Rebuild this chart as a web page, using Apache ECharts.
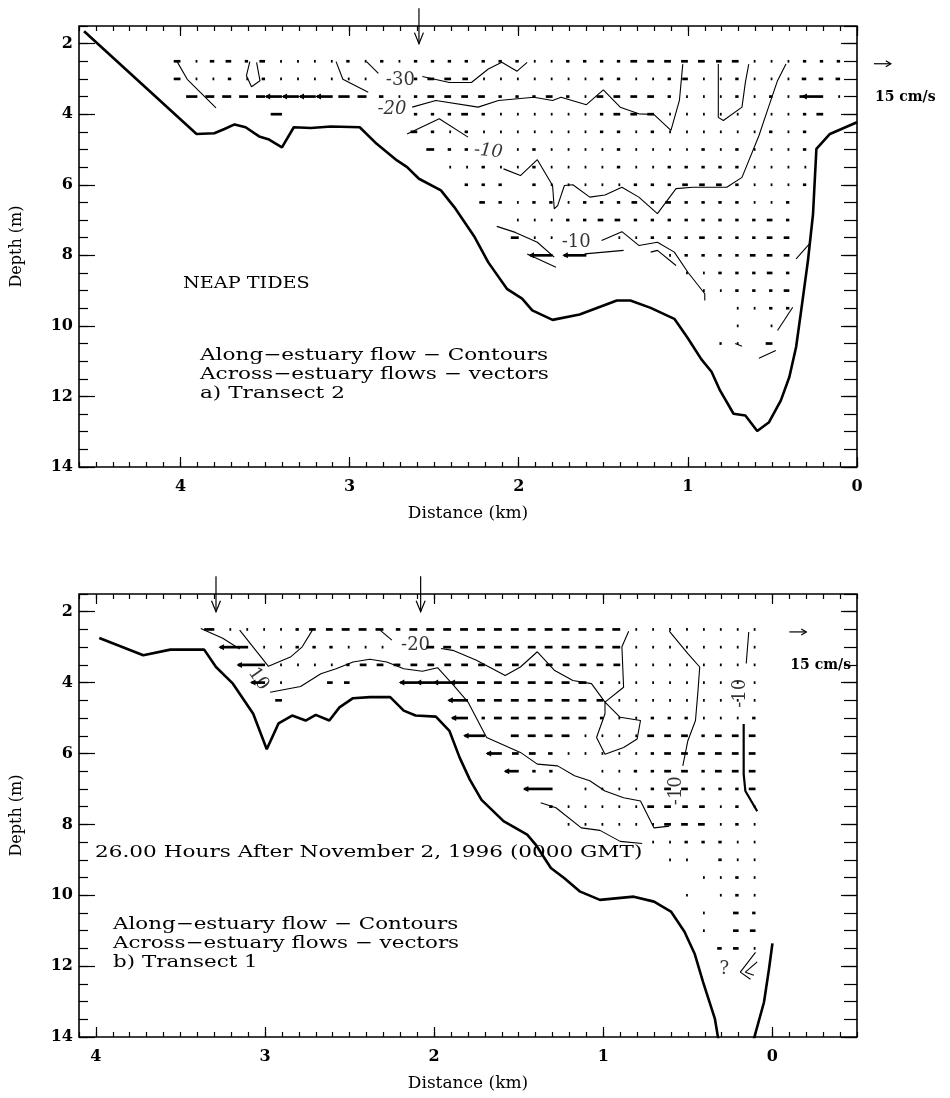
<!DOCTYPE html>
<html>
<head>
<meta charset="utf-8">
<script src="https://cdn.jsdelivr.net/npm/echarts@6/dist/echarts.min.js"></script>
<style>
  html, body { margin: 0; padding: 0; background: #fff; }
  #chart { width: 950px; height: 1098px; }
</style>
</head>
<body>
<div id="chart"></div>
<script>
const _ = null;

// ---------- tick labels ----------
const depthTicks = [2, 4, 6, 8, 10, 12, 14];
const distTicks = [0, 1, 2, 3, 4];

// ---------- measurement grid ----------
const neapCols = [4.0, 3.9, 3.8, 3.7, 3.6, 3.5, 3.4, 3.3, 3.2, 3.1, 3.0, 2.9, 2.8, 2.7, 2.6, 2.5, 2.4, 2.3, 2.2, 2.1,
                  2.0, 1.9, 1.8, 1.7, 1.6, 1.5, 1.4, 1.3, 1.2, 1.1, 1.0, 0.9, 0.8, 0.7, 0.6, 0.5, 0.4, 0.3, 0.2, 0.1];
const neapDepths = [2.5, 3.0, 3.5, 4.0, 4.5, 5.0, 5.5, 6.0, 6.5, 7.0, 7.5, 8.0, 8.5, 9.0, 9.5, 10.0, 10.5];
const springCols = [3.4, 3.3, 3.2, 3.1, 3.0, 2.9, 2.8, 2.7, 2.6, 2.5, 2.4, 2.3, 2.2, 2.1, 2.0, 1.9, 1.8,
                    1.7, 1.6, 1.5, 1.4, 1.3, 1.2, 1.1, 1.0, 0.9, 0.8, 0.7, 0.6, 0.5, 0.4, 0.3, 0.2, 0.1];
const springDepths = [2.5, 3.0, 3.5, 4.0, 4.5, 5.0, 5.5, 6.0, 6.5, 7.0, 7.5, 8.0, 8.5, 9.0, 9.5, 10.0, 10.5, 11.0, 11.5];

// ---------- across-estuary velocity (cm/s, + = toward right of page), transect 2 ----------
const neapU25 = [-6,-1,-4,-5,-3,-5,-1,-1,-1,-1, -3,-1,-3,-1,-3,-3,-3,-3,-3,-3, -3,-1,-1,-3,-3,-3,-3,-6,-6,-6, -6,-6,-5,-6,-1,-1,-1,-3,-3,-3];
const neapU30 = [-6,-1,-1.5,-3,-1,-3,-1,-1,-1,-1, -1,-1,_,_,-3,-6,-6,-5,-1,-1, -1,-1,-1,-1,-1,-3,-3,-1,-1,-3, -5,-1,-1,-3,-1,-1,-1,-4,-4,-4];
const neapU35 = [_,-10,-8,-8,-8,-8,-14,-14,-14,-14, -10,-8,-4,-1,-3,-6,-6,-6,-6,-3, -3,-3,-6,-3,-1,-6,-6,-6,-6,-3, -1,-1,-1,-3,-1,-3,-1,-6,-18,-1];
const neapU40 = [_,_,_,_,_,_,-10,_,_,_, _,_,_,_,-3,-3,-3,-6,-3,-1, -1,-1,-1,-1,-1,-3,-6,-6,-6,-1, -1,-1,-1,-1,-1,-1,-1,-3,-6,_];
const neapU45 = [_,_,_,_,_,_,_,_,_,_, _,_,_,_,-6,-3,-1,-3,-1,-1, -1,-1,-1,-1,-1,-3,-3,-1,-3,-1, -1,-1,-1,-1,-1,-3,-1,-3,_,_];
const neapU50 = [_,_,_,_,_,_,_,_,_,_, _,_,_,_,_,-7,-3,-3,_,_, -1,-3,-1,-1,-1,-1,-3,-1,-1,-1, -1,-3,-1,-3,-1,-1,-1,-3,_,_];
const neapU55 = [_,_,_,_,_,_,_,_,_,_, _,_,_,_,_,_,-1,-1,-3,-1, -1,-3,-1,-1,-1,-1,-3,-1,-1,-3, -3,-3,-3,-3,-1,-1,-1,-1,_,_];
const neapU60 = [_,_,_,_,_,_,_,_,_,_, _,_,_,_,_,_,_,-3,-3,-3, _,-3,-1,-1,-1,-1,-1,-3,-3,-3, -5,-5,-5,-3,-1,-1,-1,-3,_,_];
const neapU65 = [_,_,_,_,_,_,_,_,_,_, _,_,_,_,_,_,_,_,-5,-3, -1,-3,-3,-1,-3,-3,-3,-5,-3,-5, -3,-3,-3,-3,-1,-1,-3,_,_,_];
const neapU70 = [_,_,_,_,_,_,_,_,_,_, _,_,_,_,_,_,_,_,_,_, -1,-1,-1,-3,-3,-5,-5,-3,-3,-3, -3,-3,-3,-3,-3,-5,-3,_,_,_];
const neapU75 = [_,_,_,_,_,_,_,_,_,_, _,_,_,_,_,_,_,_,_,_, -7,-1,-1,_,_,_,-1,-1,-3,-3, -3,-5,-3,-3,-3,-5,-5,_,_,_];
const neapU80 = [_,_,_,_,_,_,_,_,_,_, _,_,_,_,_,_,_,_,_,_, _,_,-20,_,-20,_,_,_,_,-1, -3,-3,-3,-3,-5,-5,-5,_,_,_];
const neapU85 = [_,_,_,_,_,_,_,_,_,_, _,_,_,_,_,_,_,_,_,_, _,_,_,_,_,_,_,_,_,_, -1,-1,-3,-3,-3,-5,-3,_,_,_];
const neapU90 = [_,_,_,_,_,_,_,_,_,_, _,_,_,_,_,_,_,_,_,_, _,_,_,_,_,_,_,_,_,_, _,-1,-1,-3,-3,-3,-5,_,_,_];
const neapU95 = [_,_,_,_,_,_,_,_,_,_, _,_,_,_,_,_,_,_,_,_, _,_,_,_,_,_,_,_,_,_, _,_,_,-1,-1,-3,-3,_,_,_];
const neapU100 = [_,_,_,_,_,_,_,_,_,_, _,_,_,_,_,_,_,_,_,_, _,_,_,_,_,_,_,_,_,_, _,_,_,-1,_,-1,_,_,_,_];
const neapU105 = [_,_,_,_,_,_,_,_,_,_, _,_,_,_,_,_,_,_,_,_, _,_,_,_,_,_,_,_,_,_, _,_,-2,-1,_,-6,_,_,_,_];
const neapRows = [neapU25, neapU30, neapU35, neapU40, neapU45, neapU50, neapU55, neapU60, neapU65,
                  neapU70, neapU75, neapU80, neapU85, neapU90, neapU95, neapU100, neapU105];

// ---------- across-estuary velocity (cm/s), transect 1 ----------
const springU25 = [_,-9,-1,-1,-1,-1,-3,-6,-6,-7, -7,-7,-4,-7,-7,-7,-7,-7,-7,-7, -7,-7,-7,-7,-7,-7,-1,-1,-1,-1, -1,-1,-1,-1];
const springU30 = [_,_,_,-25,-1,-1,-3,-3,-3,-1, -1,-1,_,_,-7,-7,-7,-7,-7,-7, -7,-7,-7,-7,-7,-7,-1,-1,-1,-1, -1,-1,-1,-1];
const springU35 = [_,_,_,_,-24,-1,-1,-1,-1,-3, -6,-6,-6,-6,-6,-6,-6,-6,-6,-6, -6,-6,-6,-6,-6,-6,-1,-1,-1,-1, -1,-1,-1,-1];
const springU40 = [_,_,_,_,-12,-1,_,_,-5,-5, _,_,_,-15,-15,-15,-15,-7,-7,-7, -7,-7,-7,-7,-3,-1,-1,-1,-1,-1, -1,-1,-1,-1];
const springU45 = [_,_,_,_,_,-6,_,_,_,_, _,_,_,_,_,_,-17,-7,-7,-7, -7,-7,-7,-7,-6,-1,-1,-1,-1,-1, -1,-1,-1,-1];
const springU50 = [_,_,_,_,_,_,_,_,_,_, _,_,_,_,_,_,-14,-3,-7,-7, -7,-7,-7,-7,-3,-1,-1,-3,-3,-3, -1,-1,-1,-3];
const springU55 = [_,_,_,_,_,_,_,_,_,_, _,_,_,_,_,_,_,-18,_,-7, -7,-7,-7,-1,-1,-1,-1,-6,-6,-6, -3,-6,-6,-6];
const springU60 = [_,_,_,_,_,_,_,_,_,_, _,_,_,_,_,_,_,_,-13,-6, -6,-4,-1,-1,-1,-1,-1,-3,-6,-6, -6,-6,-6,-6];
const springU65 = [_,_,_,_,_,_,_,_,_,_, _,_,_,_,_,_,_,_,_,-12, -3,-3,_,_,-1,-1,-3,-3,-6,-6, -3,-6,-6,-6];
const springU70 = [_,_,_,_,_,_,_,_,_,_, _,_,_,_,_,_,_,_,_,_, _,-25,_,-1,-1,-1,-1,-3,-6,-6, -3,-3,-3,-6];
const springU75 = [_,_,_,_,_,_,_,_,_,_, _,_,_,_,_,_,_,_,_,_, _,-3,-1,-1,-1,-1,-1,-6,-6,-5, -5,-1,-3,-1];
const springU80 = [_,_,_,_,_,_,_,_,_,_, _,_,_,_,_,_,_,_,_,_, _,_,-1,-1,-1,-1,-1,-1,-6,-6, -6,-1,-3,-1];
const springU85 = [_,_,_,_,_,_,_,_,_,_, _,_,_,_,_,_,_,_,_,_, _,_,_,_,_,_,_,-1,-1,-3, -3,-3,-1,-1];
const springU90 = [_,_,_,_,_,_,_,_,_,_, _,_,_,_,_,_,_,_,_,_, _,_,_,_,_,_,_,_,-1,-1, _,-3,-1,-1];
const springU95 = [_,_,_,_,_,_,_,_,_,_, _,_,_,_,_,_,_,_,_,_, _,_,_,_,_,_,_,_,_,_, -1,-1,-3,-1];
const springU100 = [_,_,_,_,_,_,_,_,_,_, _,_,_,_,_,_,_,_,_,_, _,_,_,_,_,_,_,_,_,-1, _,-1,-3,-1];
const springU105 = [_,_,_,_,_,_,_,_,_,_, _,_,_,_,_,_,_,_,_,_, _,_,_,_,_,_,_,_,_,_, -1,_,-5,-3];
const springU110 = [_,_,_,_,_,_,_,_,_,_, _,_,_,_,_,_,_,_,_,_, _,_,_,_,_,_,_,_,_,_, -1,_,-5,-5];
const springU115 = [_,_,_,_,_,_,_,_,_,_, _,_,_,_,_,_,_,_,_,_, _,_,_,_,_,_,_,_,_,_, _,-4,-5,-1];
const springRows = [springU25, springU30, springU35, springU40, springU45, springU50, springU55, springU60,
                    springU65, springU70, springU75, springU80, springU85, springU90, springU95, springU100,
                    springU105, springU110, springU115];

// ---------- bottom profiles [distance km, depth m] ----------
const neapBottom = [[4.57,1.65],[3.905,4.56],[3.80,4.54],[3.74,4.42],[3.68,4.29],[3.615,4.37],[3.535,4.63],[3.476,4.72],
  [3.40,4.94],[3.33,4.37],[3.23,4.39],[3.11,4.35],[2.94,4.37],[2.84,4.84],[2.72,5.31],[2.66,5.50],[2.59,5.83],[2.46,6.16],
  [2.38,6.64],[2.26,7.49],[2.18,8.2],[2.07,8.95],[1.98,9.23],[1.92,9.56],[1.80,9.83],[1.64,9.68],[1.42,9.28],[1.34,9.28],
  [1.22,9.49],[1.08,9.80],[1.0,10.35],[0.92,10.95],[0.86,11.3],[0.81,11.83],[0.73,12.49],[0.66,12.54],[0.59,12.98],
  [0.52,12.73],[0.45,12.11],[0.40,11.45],[0.36,10.60],[0.33,9.56],[0.29,8.15],[0.26,6.83],[0.24,4.98],[0.16,4.56],[0.0,4.23]];
const springBottom = [[3.98,2.74],[3.72,3.23],[3.56,3.07],[3.36,3.07],[3.29,3.56],[3.19,4.03],[3.07,4.88],[2.99,5.88],
  [2.92,5.15],[2.84,4.93],[2.76,5.07],[2.70,4.91],[2.62,5.07],[2.56,4.70],[2.48,4.44],[2.38,4.41],[2.26,4.41],[2.18,4.79],
  [2.11,4.93],[1.99,4.96],[1.91,5.36],[1.85,6.11],[1.79,6.73],[1.72,7.31],[1.59,7.91],[1.45,8.29],[1.40,8.57],[1.31,9.23],
  [1.23,9.52],[1.14,9.89],[1.02,10.13],[0.82,10.04],[0.70,10.18],[0.60,10.46],[0.52,11.03],[0.46,11.65],[0.41,12.45],
  [0.34,13.49],[0.32,14.06]];
const springBottomEast = [[0.11,14.06],[0.05,13.02],[0.02,12.07],[0.0,11.36]];

// ---------- along-estuary flow contours [distance km, depth m] ----------
const neapContours = [
  [[4.02,2.51],[3.96,3.01],[3.79,3.82]],
  [[3.59,2.51],[3.61,2.91],[3.58,3.22],[3.53,3.05],[3.55,2.53]],
  [[3.08,2.51],[3.04,3.01],[2.89,3.38]],
  [[2.90,2.51],[2.83,2.84]],
  [[2.57,2.93],[2.41,3.10],[2.28,3.10],[2.18,2.72],[2.10,2.53],[2.01,2.78],[1.95,2.53]],
  [[2.63,3.80],[2.49,3.61],[2.24,3.80],[2.12,3.61],[1.91,3.52],[1.80,3.61],[1.75,3.52],[1.60,3.73],[1.50,3.31],
   [1.40,3.80],[1.29,3.99],[1.20,4.01],[1.10,4.46],[1.05,3.61],[1.03,2.58]],
  [[0.82,2.58],[0.82,4.09],[0.79,4.18],[0.68,3.80],[0.66,3.10],[0.64,2.58]],
  [[2.66,4.56],[2.47,4.13],[2.30,4.65]],
  [[2.09,5.55],[1.99,5.74],[1.89,5.29],[1.80,6.02],[1.79,6.68],[1.77,6.59],[1.73,6.02],[1.68,6.0],[1.58,6.35],
   [1.49,6.29],[1.39,6.07],[1.29,6.35],[1.18,6.82],[1.07,6.11],[0.97,6.07],[0.77,6.07],[0.68,5.79],[0.58,4.61],
   [0.53,3.90],[0.47,3.05],[0.42,2.58]],
  [[2.13,7.18],[2.02,7.35],[1.89,7.63],[1.79,8.05]],
  [[1.95,7.96],[1.78,8.34]],
  [[1.61,7.96],[1.38,7.86]],
  [[1.51,7.58],[1.39,7.33],[1.29,7.72],[1.18,7.63],[1.08,7.91],[1.0,8.48],[0.90,9.09],[0.90,9.28]],
  [[1.22,7.91],[1.18,7.86],[1.07,8.29]],
  [[0.28,7.67],[0.36,8.10]],
  [[0.38,9.47],[0.47,10.13]],
  [[0.48,10.70],[0.58,10.92]],
  [[0.72,10.5],[0.68,10.58]]
];
const springContours = [
  [[3.38,2.47],[3.25,2.75],[3.15,3.05]],
  [[3.15,2.52],[2.98,3.54],[2.85,3.28],[2.78,2.99],[2.72,2.52]],
  [[2.97,4.27],[2.79,4.11],[2.67,3.75],[2.58,3.61],[2.48,3.42],[2.38,3.34],[2.28,3.42],[2.18,3.61],[2.07,3.68],
   [1.98,3.58],[1.885,4.08],[1.80,4.55],[1.69,5.55],[1.49,5.97],[1.39,6.30],[1.27,6.35],[1.17,6.63],[1.08,6.77],
   [0.99,7.06],[0.88,7.25],[0.78,7.34],[0.72,7.91],[0.70,8.10],[0.61,8.05]],
  [[1.37,7.39],[1.28,7.53],[1.13,8.10],[1.02,8.17],[0.90,8.48],[0.77,8.54]],
  [[2.32,2.52],[2.25,2.80]],
  [[1.96,3.04],[1.89,3.09],[1.75,3.37],[1.58,3.80],[1.49,3.56],[1.39,3.13],[1.29,3.65],[1.18,3.94],[1.07,4.03],
   [0.99,4.55],[0.88,4.13],[0.89,2.99],[0.85,2.55]],
  [[0.99,4.55],[0.99,4.88],[1.04,5.55],[0.99,6.02],[0.88,5.83],[0.80,5.59],[0.78,5.07],[0.90,4.98],[0.99,4.55]],
  [[0.61,2.55],[0.50,3.18],[0.43,3.56],[0.44,4.22],[0.455,5.07],[0.50,5.64],[0.53,6.35]],
  [[0.14,2.57],[0.155,3.46]],
  [[0.10,11.61],[0.19,12.17],[0.13,12.37]],
  [[0.09,11.88],[0.16,12.17],[0.11,12.26]]
];
// heavier stretch of the -10 contour near the east bank
const springContourHeavy = [[0.17,5.17],[0.17,6.58],[0.16,7.06],[0.09,7.63]];

// ---------- contour labels ----------
const neapLabelText = ['-30', '-20', '-10', '-10'];
const neapLabelPos = [[2.70, 3.05], [2.75, 3.85], [2.18, 5.05], [1.66, 7.62]];
const neapLabelAngle = [0, 0, -6, 0];
const neapLabelItalic = [false, true, true, false];
const springLabelText = ['-20', '10', '-10', '-10', '?'];
const springLabelPos = [[2.11, 2.95], [3.04, 3.90], [0.57, 7.05], [0.19, 4.30], [0.285, 12.1]];
const springLabelAngle = [0, -55, 90, 90, 0];
const springLabelItalic = [false, false, false, false, false];

// ---------- station markers and reference vector ----------
const neapStations = [2.59];
const springStations = [3.29, 2.08];
const refSpeed = 15;          // cm/s
const refPos = [-0.1, 2.57];  // km, m

const SERIF = '"DejaVu Serif", "Liberation Serif", serif';
const KM_PER_CMS = 0.1 / refSpeed;   // a 15 cm/s vector spans 0.1 km

function vectorData(cols, depths, rows) {
  const out = [];
  rows.forEach((row, j) => row.forEach((u, k) => {
    if (u !== null) out.push([cols[k], depths[j], u]);
  }));
  return out;
}

function vectorItem(params, api) {
  const x = api.value(0), d = api.value(1), u = api.value(2);
  const p0 = api.coord([x, d]);
  const p1 = api.coord([x - u * KM_PER_CMS, d]);
  const dx = p1[0] - p0[0];
  const dir = dx < 0 ? -1 : 1;
  const len = Math.max(Math.abs(dx), 1.8);
  const xe = p0[0] + dir * len;
  const children = [{
    type: 'line',
    shape: { x1: p0[0], y1: p0[1], x2: xe, y2: p0[1] },
    style: { stroke: '#000', lineWidth: 2.7 }
  }];
  if (len >= 12) {
    children.push({
      type: 'polygon',
      shape: { points: [[xe + dir * 1.5, p0[1]], [xe - dir * 4, p0[1] - 3], [xe - dir * 4, p0[1] + 3]] },
      style: { fill: '#000' }
    });
  }
  return { type: 'group', children };
}

function stationItem(params, api) {
  const x = api.value(0);
  const top = api.coord([x, 1.0]);
  const tip = api.coord([x, 2.0]);
  return {
    type: 'group',
    children: [
      { type: 'line', shape: { x1: top[0], y1: top[1], x2: tip[0], y2: tip[1] }, style: { stroke: '#000', lineWidth: 1.2 } },
      { type: 'polyline', shape: { points: [[tip[0] - 4.5, tip[1] - 11], [tip[0], tip[1]], [tip[0] + 4.5, tip[1] - 11]] },
        style: { stroke: '#000', fill: null, lineWidth: 1.2 } }
    ]
  };
}

function refItem(params, api) {
  const x = api.value(0), d = api.value(1), u = api.value(2);
  const p0 = api.coord([x, d]);
  const p1 = api.coord([x - u * KM_PER_CMS, d]);
  const t = api.coord([x, d + 0.95]);
  return {
    type: 'group',
    children: [
      { type: 'line', shape: { x1: p0[0], y1: p0[1], x2: p1[0], y2: p1[1] }, style: { stroke: '#000', lineWidth: 1.2 } },
      { type: 'polyline', shape: { points: [[p1[0] - 5, p1[1] - 3], [p1[0], p1[1]], [p1[0] - 5, p1[1] + 3]] },
        style: { stroke: '#000', fill: null, lineWidth: 1.2 } },
      { type: 'text', style: { text: u + ' cm/s', x: p0[0] + 1, y: t[1], font: 'bold 14px ' + SERIF,
        fill: '#000', textAlign: 'left', textVerticalAlign: 'middle' } }
    ]
  };
}

function xAxes(g, min, max) {
  const base = { gridIndex: g, type: 'value', min, max, inverse: true, splitLine: { show: false },
                 axisLine: { show: false, onZero: false } };
  const tick = (len, extra) => Object.assign({ show: true, inside: true, length: len,
                 lineStyle: { color: '#000', width: 1.2 } }, extra || {});
  return [
    Object.assign({}, base, {
      position: 'bottom', axisTick: tick(10, { customValues: distTicks }),
      axisLabel: { show: true, customValues: distTicks, color: '#000', fontFamily: SERIF, fontWeight: 'bold',
                   fontSize: 16, margin: 12, formatter: v => String(Math.round(v)) },
      name: 'Distance (km)', nameLocation: 'middle', nameGap: 38,
      nameTextStyle: { color: '#000', fontFamily: SERIF, fontSize: 17 }
    }),
    Object.assign({}, base, { position: 'bottom', interval: 0.1, axisTick: tick(5), axisLabel: { show: false } }),
    Object.assign({}, base, { position: 'top', axisTick: tick(10, { customValues: distTicks }), axisLabel: { show: false } }),
    Object.assign({}, base, { position: 'top', interval: 0.1, axisTick: tick(5), axisLabel: { show: false } })
  ];
}

function yAxes(g) {
  const base = { gridIndex: g, type: 'value', min: 1.5, max: 14, inverse: true, splitLine: { show: false },
                 axisLine: { show: false, onZero: false } };
  const tick = (len, extra) => Object.assign({ show: true, inside: true, length: len,
                 lineStyle: { color: '#000', width: 1.2 } }, extra || {});
  return [
    Object.assign({}, base, {
      position: 'left', axisTick: tick(16, { customValues: depthTicks }),
      axisLabel: { show: true, customValues: depthTicks, color: '#000', fontFamily: SERIF, fontWeight: 'bold',
                   fontSize: 16, margin: 6 },
      name: 'Depth (m)', nameLocation: 'middle', nameGap: 54, nameRotate: 90,
      nameTextStyle: { color: '#000', fontFamily: SERIF, fontSize: 16 }
    }),
    Object.assign({}, base, { position: 'left', interval: 0.5, axisTick: tick(9), axisLabel: { show: false } }),
    Object.assign({}, base, { position: 'right', axisTick: tick(16, { customValues: depthTicks }), axisLabel: { show: false } }),
    Object.assign({}, base, { position: 'right', interval: 0.5, axisTick: tick(13), axisLabel: { show: false } })
  ];
}

function panelSeries(g, bottoms, contours, heavy, vectors, stations, labelText, labelPos, labelAngle, labelItalic) {
  const ax = { xAxisIndex: 4 * g, yAxisIndex: 4 * g };
  const s = [];
  bottoms.forEach(b => s.push(Object.assign({
    type: 'line', data: b, showSymbol: false, symbol: 'none', silent: true,
    lineStyle: { color: '#000', width: 2.6 }
  }, ax)));
  contours.forEach(c => s.push(Object.assign({
    type: 'line', data: c, showSymbol: false, symbol: 'none', silent: true,
    lineStyle: { color: '#000', width: 1.1 }
  }, ax)));
  heavy.forEach(c => s.push(Object.assign({
    type: 'line', data: c, showSymbol: false, symbol: 'none', silent: true,
    lineStyle: { color: '#000', width: 2.2 }
  }, ax)));
  s.push(Object.assign({ type: 'custom', renderItem: vectorItem, data: vectors, silent: true,
    encode: { x: 0, y: 1 } }, ax));
  s.push(Object.assign({ type: 'custom', renderItem: stationItem, clip: false, silent: true,
    data: stations.map(x => [x, 2]), encode: { x: 0, y: 1 } }, ax));
  s.push(Object.assign({ type: 'custom', renderItem: refItem, clip: false, silent: true,
    data: [[refPos[0], refPos[1], refSpeed]], encode: { x: 0, y: 1 } }, ax));
  s.push(Object.assign({
    type: 'scatter', symbolSize: 0, silent: true,
    data: labelText.map((t, i) => ({
      value: labelPos[i],
      label: { show: true, formatter: t, rotate: labelAngle[i], position: 'inside', color: '#000',
               fontFamily: SERIF, fontSize: 18, fontStyle: labelItalic[i] ? 'italic' : 'normal' }
    }))
  }, ax));
  return s;
}

function note(x, y, text, sx) {
  return { type: 'text', x, y, scaleX: sx, style: { text, font: '17px ' + SERIF, fill: '#000', textVerticalAlign: 'middle' } };
}

const chart = echarts.init(document.getElementById('chart'), null, { renderer: 'canvas' });

const option = {
  animation: false,
  backgroundColor: '#fff',
  grid: [
    { left: 79, top: 26, width: 778, height: 441, show: true, borderColor: '#000', borderWidth: 1.6 },
    { left: 79, top: 594, width: 778, height: 443, show: true, borderColor: '#000', borderWidth: 1.6 }
  ],
  xAxis: [].concat(xAxes(0, 0, 4.6), xAxes(1, -0.5, 4.1)),
  yAxis: [].concat(yAxes(0), yAxes(1)),
  series: [].concat(
    panelSeries(0, [neapBottom], neapContours, [], vectorData(neapCols, neapDepths, neapRows), neapStations,
                neapLabelText, neapLabelPos, neapLabelAngle, neapLabelItalic),
    panelSeries(1, [springBottom, springBottomEast], springContours, [springContourHeavy],
                vectorData(springCols, springDepths, springRows), springStations,
                springLabelText, springLabelPos, springLabelAngle, springLabelItalic)
  ),
  graphic: [
    note(183, 284, 'NEAP TIDES', 1.13),
    note(200, 356, 'Along\u2212estuary flow \u2212 Contours', 1.27),
    note(200, 375, 'Across\u2212estuary flows \u2212 vectors', 1.27),
    note(200, 394, 'a) Transect 2', 1.27),
    note(95, 853, '26.00 Hours After November 2, 1996 (0000 GMT)', 1.27),
    note(113, 925, 'Along\u2212estuary flow \u2212 Contours', 1.26),
    note(113, 944, 'Across\u2212estuary flows \u2212 vectors', 1.26),
    note(113, 963, 'b) Transect 1', 1.26)
  ]
};

chart.setOption(option);
</script>
</body>
</html>
